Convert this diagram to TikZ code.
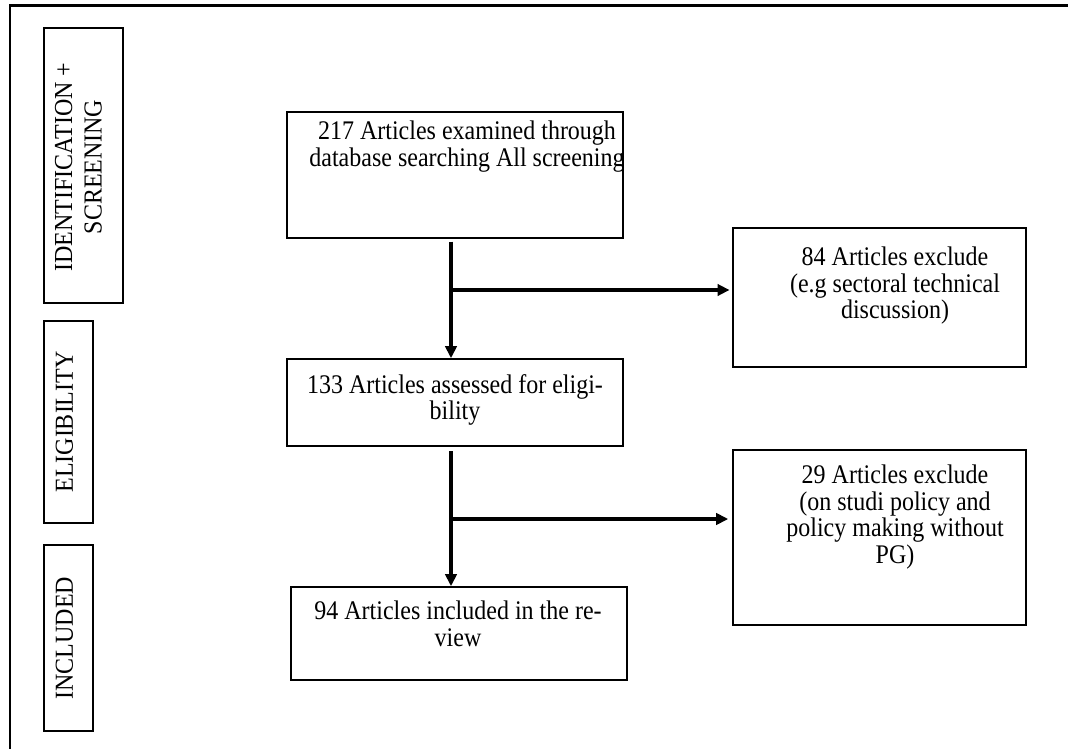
\documentclass[tikz,border=0pt]{standalone}
\usepackage{fontspec}
\usepackage{graphicx}
\setmainfont{Liberation Serif}
\usetikzlibrary{arrows.meta,fit}
\newcommand\tallstack[2]{\scalebox{1}[#1]{\begin{tabular}{@{}c@{}}#2\end{tabular}}}
\begin{document}
\begin{tikzpicture}[x=0.75pt,y=-0.75pt,
  box/.style={draw,line width=1.2pt,inner sep=0pt},
  txt/.style={inner sep=0pt,font=\fontsize{18}{17.6}\selectfont},
  side/.style={inner sep=0pt,rotate=90,font=\fontsize{18}{20.5}\selectfont},
  arr/.style={line width=3pt,-{Triangle[length=9pt,width=8.5pt]}},
  frame/.style={line width=2.2pt}]
\useasboundingbox (0,0) rectangle (1068,749);
% outer frame (only top and left edges visible)
\coordinate (ftl) at (10,5.5);
\coordinate (ftr) at (1068,5.5);
\coordinate (fbl) at (10,749);
\draw[frame] (fbl) -- (ftl) -- (ftr);
% side boxes
\node[box,fit={(44,28) (123,303)}] (s1) {};
\node[box,fit={(44,321) (93,523)}] (s2) {};
\node[box,fit={(44,545) (93,731)}] (s3) {};
\node[side] (s1t) at (81,167) {\tallstack{1.08}{IDENTIFICATION +\\SCREENING}};
\node[side] (s2t) at (67,422) {\tallstack{1.08}{ELIGIBILITY}};
\node[side] (s3t) at (67,638) {\tallstack{1.08}{INCLUDED}};
% main boxes
\node[box,fit={(287,112) (623,238)}] (b1) {};
\node[box,fit={(287,359) (623,446)}] (b2) {};
\node[box,fit={(291,587) (627,680)}] (b3) {};
\node[box,fit={(733,228) (1026,367)}] (e1) {};
\node[box,fit={(733,450) (1026,625)}] (e2) {};
% texts
\node[txt,anchor=north] (b1t) at (467,121) {\tallstack{1.12}{217 Articles examined through\\database searching All screening}};
\node[txt,anchor=north] (b2t) at (455,374) {\tallstack{1.12}{133 Articles assessed for eligi-\\bility}};
\node[txt,anchor=north] (b3t) at (458,601) {\tallstack{1.12}{94 Articles included in the re-\\view}};
\node[txt,anchor=north] (e1t) at (895,247) {\tallstack{1.12}{84 Articles exclude\\(e.g sectoral technical\\discussion)}};
\node[txt,anchor=north] (e2t) at (895,465) {\tallstack{1.12}{29 Articles exclude\\(on studi policy and\\policy making without\\PG)}};
% connectors
\coordinate (j1) at (451,290);
\coordinate (j2) at (451,519);
\draw[arr] ([yshift=-2.2pt]j1 |- b1.south) -- (j1 |- b2.north);
\draw[arr] (j1) -- ([xshift=-2pt]j1 -| e1.west);
\draw[arr] ([yshift=-3.5pt]j2 |- b2.south) -- (j2 |- b3.north);
\draw[arr] (j2) -- ([xshift=-3pt]j2 -| e2.west);
\end{tikzpicture}
\end{document}
